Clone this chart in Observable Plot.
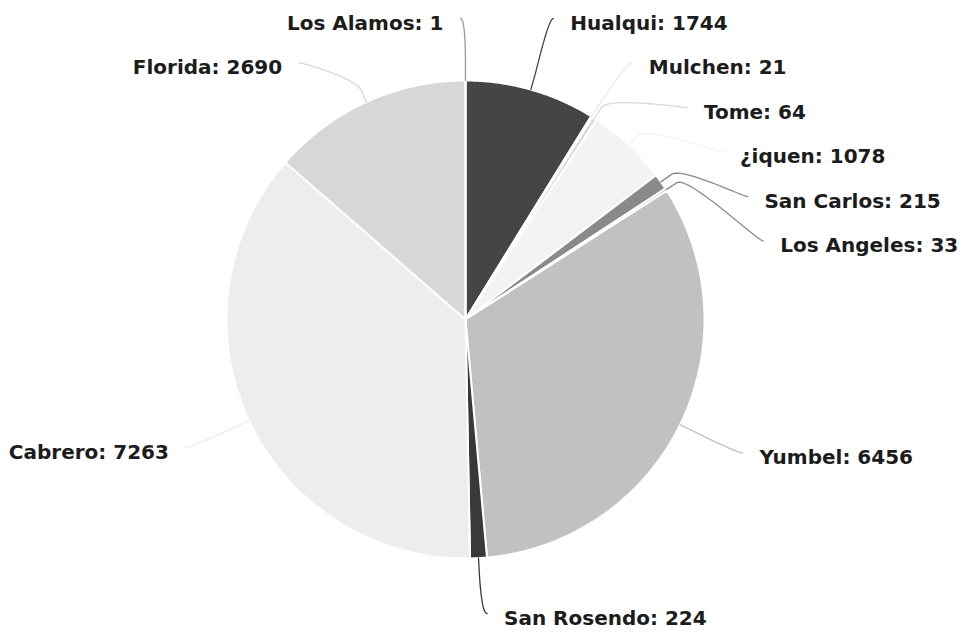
<!DOCTYPE html>
<html>
<head>
<meta charset="utf-8">
<script src="https://cdn.jsdelivr.net/npm/d3@7"></script>
<script src="https://cdn.jsdelivr.net/npm/@observablehq/plot@0.6"></script>
<style>
  html, body { margin: 0; padding: 0; background: #ffffff; }
  #chart { width: 966px; height: 633px; overflow: hidden; }
</style>
</head>
<body>
<div id="chart"></div>
<script>
// ---- data (clockwise from 12 o'clock) ----
const categories = ["Hualqui", "Mulchen", "Tome", "¿iquen", "San Carlos", "Los Angeles", "Yumbel", "San Rosendo", "Cabrero", "Florida", "Los Alamos"];
const values = [1744, 21, 64, 1078, 215, 33, 6456, 224, 7263, 2690, 1];
const sliceColors = ["#454545", "#ebebeb", "#dadada", "#f3f3f3", "#8a8a8a", "#8c8c8c", "#c1c1c1", "#393939", "#ededed", "#d7d7d7", "#9a9a9a"];

// ---- layout constants ----
const W = 966, H = 633;
const CX = 465, CY = 319;        // pie centre (px)
const RADIUS = 239;              // pie radius (px)
const LABEL_R = 303;             // radius at which connectors end
const SPACING = 44.5;            // minimum vertical distance between labels
const TOP = 18, BOTTOM = 613;    // vertical bounds for connector ends
const GAP = 22;                  // horizontal gap connector end -> text
const TEXT_DY = 5;

const total = d3.sum(values);
let acc = 0;
const slices = categories.map((name, i) => {
  const a0 = acc / total * 2 * Math.PI;
  acc += values[i];
  const a1 = acc / total * 2 * Math.PI;
  return {name, value: values[i], color: sliceColors[i], a0, a1, mid: (a0 + a1) / 2};
});

// slice polygons (coordinates relative to the centre, y downward)
const slicePts = [];
for (const s of slices) {
  slicePts.push({name: s.name, color: s.color, x: 0, y: 0});
  const n = Math.max(2, Math.ceil((s.a1 - s.a0) / (Math.PI / 360)));
  for (let k = 0; k <= n; k++) {
    const a = s.a0 + (s.a1 - s.a0) * k / n;
    slicePts.push({name: s.name, color: s.color, x: RADIUS * Math.sin(a), y: -RADIUS * Math.cos(a)});
  }
  slicePts.push({name: s.name, color: s.color, x: 0, y: 0});
}

// label layout (Highcharts-like distribution)
slices.forEach(s => {
  s.left = s.mid > Math.PI;
  s.ny = -LABEL_R * Math.cos(s.mid);
});
const lo = TOP - CY, hi = BOTTOM - CY;
function distribute(items) {
  items.sort((a, b) => a.ny - b.ny);
  const blocks = items.map(d => ({items: [d]}));
  const place = b => {
    const n = b.items.length;
    const m = d3.mean(b.items, (d, i) => d.ny - i * SPACING);
    b.y0 = Math.max(lo, Math.min(hi - (n - 1) * SPACING, m));
  };
  blocks.forEach(place);
  let merged = true;
  while (merged) {
    merged = false;
    for (let i = 1; i < blocks.length; i++) {
      const a = blocks[i - 1], b = blocks[i];
      if (a.y0 + a.items.length * SPACING > b.y0 + 1e-9) {
        a.items = a.items.concat(b.items);
        place(a);
        blocks.splice(i, 1);
        merged = true;
        break;
      }
    }
  }
  blocks.forEach(b => b.items.forEach((d, i) => d.y = b.y0 + i * SPACING));
}
distribute(slices.filter(s => !s.left));
distribute(slices.filter(s => s.left));

const connPts = [];
slices.forEach(s => {
  const sign = s.left ? -1 : 1;
  const yx = (s.y <= lo + 2 || s.y >= hi - 2) ? s.ny : s.y;
  const dx = Math.sqrt(Math.max(0, LABEL_R * LABEL_R - yx * yx));
  s.x = sign * dx;
  s.tx = s.x + sign * GAP;
  s.ty = s.y + TEXT_DY;
  s.label = `${s.name}: ${s.value}`;
  const sn = Math.sin(s.mid), cs = -Math.cos(s.mid);
  const E = [RADIUS * sn, RADIUS * cs];
  const B = [(RADIUS + 13) * sn, (RADIUS + 13) * cs];
  const C2 = [2 * B[0] - E[0], 2 * B[1] - E[1]];
  const P0 = [s.x + sign * 5, s.y];
  const C1 = [s.x, s.y];
  const N = 24;
  for (let k = 0; k <= N; k++) {
    const t = k / N, u = 1 - t;
    const px = u*u*u*P0[0] + 3*u*u*t*C1[0] + 3*u*t*t*C2[0] + t*t*t*B[0];
    const py = u*u*u*P0[1] + 3*u*u*t*C1[1] + 3*u*t*t*C2[1] + t*t*t*B[1];
    connPts.push({name: s.name, color: s.color, x: px, y: py});
  }
  connPts.push({name: s.name, color: s.color, x: E[0], y: E[1]});
});

const font = {fontFamily: "'DejaVu Sans', Verdana, sans-serif", fontSize: 20, fontWeight: "bold", fill: "#1c1c1c", lineAnchor: "middle"};

const chart = Plot.plot({
  width: W,
  height: H,
  margin: 0,
  style: {background: "#ffffff"},
  x: {domain: [-CX, W - CX], range: [0, W], axis: null},
  y: {domain: [-CY, H - CY], range: [0, H], axis: null},
  color: {type: "identity"},
  marks: [
    Plot.line(slicePts, {x: "x", y: "y", z: "name", fill: "color", stroke: "#ffffff", strokeWidth: 2, strokeLinejoin: "round"}),
    Plot.line(connPts, {x: "x", y: "y", z: "name", stroke: "color", strokeWidth: 1.3, fill: "none"}),
    Plot.text(slices.filter(s => !s.left), {x: "tx", y: "ty", text: "label", textAnchor: "start", ...font}),
    Plot.text(slices.filter(s => s.left), {x: "tx", y: "ty", text: "label", textAnchor: "end", ...font})
  ]
});
document.getElementById("chart").appendChild(chart);
</script>
</body>
</html>
